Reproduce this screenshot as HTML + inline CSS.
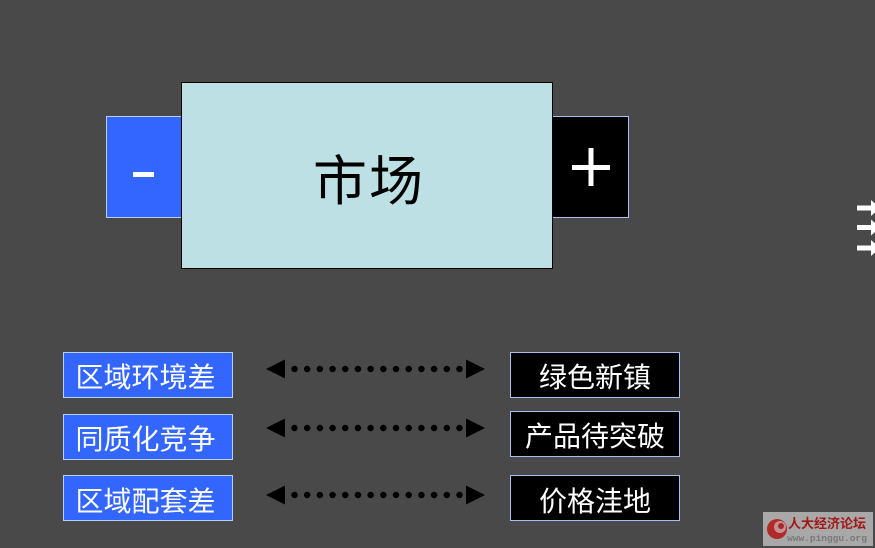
<!DOCTYPE html>
<html lang="zh"><head><meta charset="utf-8"><style>
html,body{margin:0;padding:0;background:#494949}
body{width:875px;height:548px;overflow:hidden;position:relative}
svg{position:absolute;left:0;top:0}
text{font-family:"Liberation Sans","WenQuanYi Zen Hei","Noto Sans CJK SC",sans-serif;text-anchor:middle}
</style></head><body>
<svg width="875" height="548" viewBox="0 0 875 548" xmlns="http://www.w3.org/2000/svg">
<rect width="875" height="548" fill="#494949"/>
<rect x="106.5" y="116.5" width="80" height="101" fill="#3366ff" stroke="#b8d0f0"/>
<rect x="548.5" y="116.5" width="80" height="101" fill="#000" stroke="#a8c0f0"/>
<rect x="181.5" y="82.5" width="371" height="186" fill="#bce0e3" stroke="#000"/>
<text x="340" y="200" font-size="54" fill="#000">市</text>
<text x="396" y="200" font-size="54" fill="#000">场</text>
<rect x="133" y="172" width="21" height="5" fill="#fff"/>
<rect x="572" y="165" width="38" height="5" fill="#fff"/><rect x="588.5" y="148" width="5" height="38" fill="#fff"/>

<g stroke="#b8d0f0" fill="#3366ff">
<rect x="63.5" y="352.5" width="169" height="45"/>
<rect x="63.5" y="414.5" width="169" height="45"/>
<rect x="63.5" y="475.5" width="169" height="45"/>
</g>
<g stroke="#a8c0f0" fill="#000">
<rect x="510.5" y="352.5" width="169" height="45"/>
<rect x="510.5" y="411.5" width="169" height="45"/>
<rect x="510.5" y="475.5" width="169" height="45"/>
</g>
<g font-size="28" fill="#fff">
<text x="145.5" y="387">区域环境差</text>
<text x="145.5" y="449">同质化竞争</text>
<text x="145.5" y="511">区域配套差</text>
<text x="595" y="387">绿色新镇</text>
<text x="595" y="446">产品待突破</text>
<text x="595" y="511">价格洼地</text>
</g>

<g fill="#000">
<path d="M266 369L285 359.5V378.5ZM485 369L466 359.5V378.5Z"/>
<path d="M266 428L285 418.5V437.5ZM485 428L466 418.5V437.5Z"/>
<path d="M266 495L285 485.5V504.5ZM485 495L466 485.5V504.5Z"/>
</g>
<g stroke="#000" stroke-width="6.5" stroke-linecap="round" stroke-dasharray="0 12.69" fill="none">
<path d="M294.5 369H459.5"/><path d="M294.5 428H459.5"/><path d="M294.5 495H459.5"/>
</g>

<g fill="#fff">
<path d="M857 205.5H871V200L880 208L871 216V210.5H857Z"/>
<path d="M857 225H871V219.5L880 227.5L871 235.5V230H857Z"/>
<path d="M857 245.5H871V240L880 248L871 256V250.5H857Z"/>
</g>

<rect x="763" y="512" width="110" height="34" fill="#a8a8a8"/>
<circle cx="777" cy="529" r="10" fill="#b02a2a"/>
<circle cx="780" cy="527" r="6" fill="#c89090"/>
<circle cx="781" cy="526" r="3" fill="#a82828"/>
<text x="827" y="528" font-size="13" font-weight="bold" fill="#a01818">人大经济论坛</text>
<text x="827" y="541" font-size="9.5" font-weight="bold" fill="#787878" style="font-family:'Liberation Mono',monospace">www.pinggu.org</text>
</svg>
</body></html>
